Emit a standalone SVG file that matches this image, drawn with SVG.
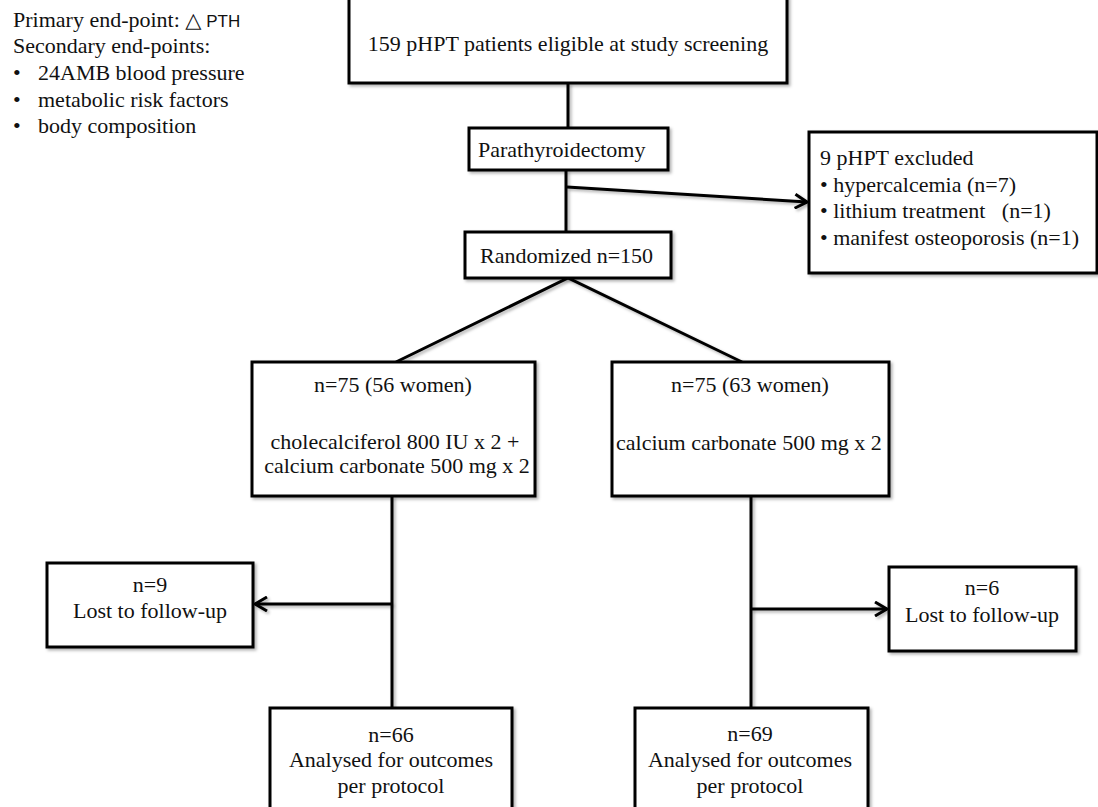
<svg xmlns="http://www.w3.org/2000/svg" width="1098" height="807" viewBox="0 0 1098 807">
<defs>
<filter id="sh" filterUnits="userSpaceOnUse" x="0" y="-10" width="1110" height="830">
<feDropShadow dx="2" dy="2" stdDeviation="1.5" flood-color="#000" flood-opacity="0.3"/>
</filter>
<marker id="arr" viewBox="0 0 16 16" refX="14" refY="8" markerWidth="16" markerHeight="16" markerUnits="userSpaceOnUse" orient="auto">
<path d="M2,1 L14,8 L2,15" fill="none" stroke="#000" stroke-width="3" stroke-linejoin="miter"/>
</marker>
</defs>
<style>
.box{fill:#fff;stroke:#000;stroke-width:3;filter:url(#sh)}
.ln{fill:none;stroke:#000;stroke-width:3;filter:url(#sh)}
.t{font-family:"Liberation Serif","Times New Roman",serif;font-size:22px;fill:#111}
.c{text-anchor:middle}
.s{font-family:"Liberation Sans","DejaVu Sans",sans-serif;font-size:17px}
</style>
<rect width="1098" height="807" fill="#fff"/>

<g id="legend">
<text class="t" x="13" y="27">Primary end-point: <tspan font-family="DejaVu Sans, sans-serif" font-size="21">△</tspan><tspan class="s"> PTH</tspan></text>
<text class="t" x="13" y="53">Secondary end-points:</text>
<text class="t" x="13" y="80">•</text><text class="t" x="38" y="80">24AMB blood pressure</text>
<text class="t" x="13" y="107">•</text><text class="t" x="38" y="107">metabolic risk factors</text>
<text class="t" x="13" y="133">•</text><text class="t" x="38" y="133">body composition</text>
</g>

<g id="connectors">
<line class="ln" x1="568" y1="83" x2="568" y2="128"/>
<line class="ln" x1="566" y1="170" x2="566" y2="232"/>
<line class="ln" x1="567" y1="187" x2="807" y2="202" marker-end="url(#arr)"/>
<polyline class="ln" points="396,362 568,278 742,362"/>
<line class="ln" x1="392" y1="496" x2="392" y2="708"/>
<line class="ln" x1="392" y1="604" x2="255" y2="604" marker-end="url(#arr)"/>
<line class="ln" x1="751" y1="496" x2="751" y2="708"/>
<line class="ln" x1="751" y1="609" x2="887" y2="609" marker-end="url(#arr)"/>
</g>

<g id="n-screening">
<rect class="box" x="349" y="-3" width="438" height="86"/>
<text class="t c" x="568" y="51">159 pHPT patients eligible at study screening</text>
</g>

<g id="n-parathyroidectomy">
<rect class="box" x="469" y="128" width="199" height="42"/>
<text class="t" x="478" y="157">Parathyroidectomy</text>
</g>

<g id="n-randomized">
<rect class="box" x="465" y="232" width="206" height="46"/>
<text class="t" x="480" y="263">Randomized n=150</text>
</g>

<g id="n-excluded">
<rect class="box" x="809" y="132" width="288" height="141"/>
<text class="t" x="820" y="165">9 pHPT excluded</text>
<text class="t" x="820" y="192">• hypercalcemia (n=7)</text>
<text class="t" x="820" y="218" xml:space="preserve">• lithium treatment   (n=1)</text>
<text class="t" x="820" y="245">• manifest osteoporosis (n=1)</text>
</g>

<g id="n-arm-vitd">
<rect class="box" x="252" y="362" width="283" height="134"/>
<text class="t c" x="393" y="392">n=75 (56 women)</text>
<text class="t c" x="395" y="449">cholecalciferol 800 IU x 2 +</text>
<text class="t c" x="397" y="473">calcium carbonate 500 mg x 2</text>
</g>

<g id="n-arm-placebo">
<rect class="box" x="612" y="362" width="277" height="134"/>
<text class="t c" x="750" y="392">n=75 (63 women)</text>
<text class="t" x="616" y="450">calcium carbonate 500 mg x 2</text>
</g>

<g id="n-lost-left">
<rect class="box" x="47" y="563" width="206" height="84"/>
<text class="t c" x="150" y="592">n=9</text>
<text class="t c" x="150" y="618">Lost to follow-up</text>
</g>

<g id="n-lost-right">
<rect class="box" x="889" y="567" width="187" height="84"/>
<text class="t c" x="982" y="595">n=6</text>
<text class="t c" x="982" y="622">Lost to follow-up</text>
</g>

<g id="n-analysed-left">
<rect class="box" x="270" y="708" width="242" height="110"/>
<text class="t c" x="391" y="742">n=66</text>
<text class="t c" x="391" y="767">Analysed for outcomes</text>
<text class="t c" x="391" y="793">per protocol</text>
</g>

<g id="n-analysed-right">
<rect class="box" x="635" y="708" width="233" height="110"/>
<text class="t c" x="750" y="741">n=69</text>
<text class="t c" x="750" y="767">Analysed for outcomes</text>
<text class="t c" x="750" y="793">per protocol</text>
</g>
</svg>
